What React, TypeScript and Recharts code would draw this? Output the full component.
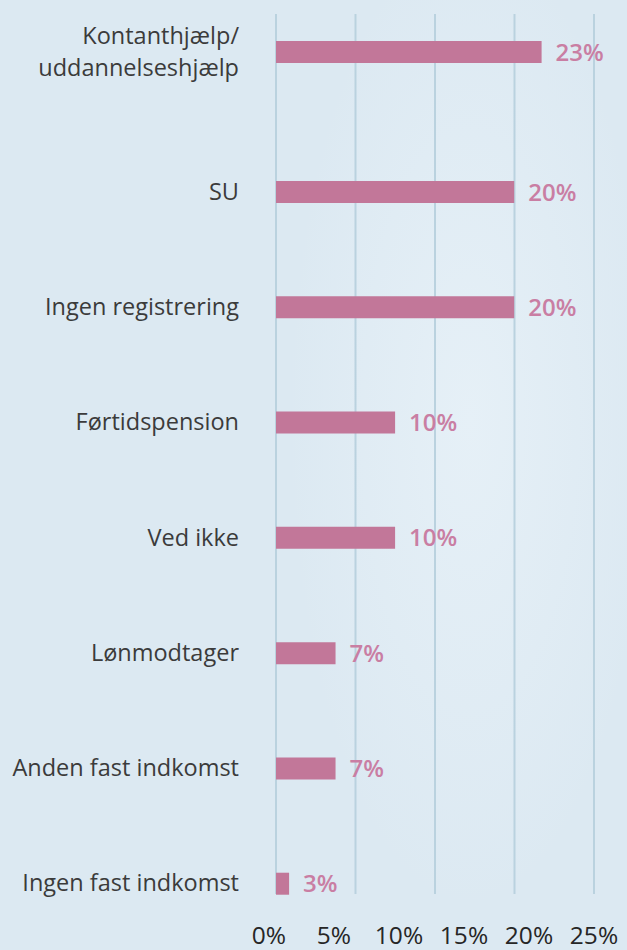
import { BarChart, Bar, XAxis, YAxis, CartesianGrid, LabelList } from "recharts";

// categories top to bottom
const categories = [
  "Kontanthjælp/\nuddannelseshjælp",
  "SU",
  "Ingen registrering",
  "Førtidspension",
  "Ved ikke",
  "Lønmodtager",
  "Anden fast indkomst",
  "Ingen fast indkomst",
];
// bar lengths as drawn (in units where the 20% bars read 20)
const barLengths = [22.3, 20, 20, 10, 10, 5, 5, 1.1];
// the percentages printed next to the bars
const printedLabels = ["23%", "20%", "20%", "10%", "10%", "7%", "7%", "3%"];
const axisTicks = [0, 5, 10, 15, 20, 25];
const gridSteps = [0, 1, 2, 3, 4];

const FONT = "'Open Sans', 'Noto Sans', sans-serif";
const BAR = "#c27799";
const LABEL = "#c97ea3";
const GRID = "#bad2df";

const rows = categories.map((name, i) => ({
  name,
  value: barLengths[i],
  label: printedLabels[i],
}));

function CategoryTick({ x, y, payload }: any) {
  const lines = String(payload.value).split("\n");
  const lineHeight = 32.7;
  const tx = x - 35;
  return (
    <text x={tx} y={y} textAnchor="end" fill="#3b3b3b" fontSize={23.5} fontFamily={FONT}>
      {lines.map((line, i) => (
        <tspan key={i} x={tx} dy={i === 0 ? 8 - ((lines.length - 1) * lineHeight) / 2 : lineHeight}>
          {line}
        </tspan>
      ))}
    </text>
  );
}

function PctTick({ x, y, payload }: any) {
  return (
    <text x={x} y={y} dy={48} textAnchor="middle" fill="#262626" fontSize={24.5} fontFamily={FONT}>
      {`${payload.value}%`}
    </text>
  );
}

// vertical grid lines split the plot width in quarters
const quarterLines = ({ offset }: any) =>
  gridSteps.map((s) => offset.left + (offset.width * s) / (gridSteps.length - 1));

function Panel({ data, height, marginTop, yPadding, withTicks }: any) {
  return (
    <BarChart
      width={627}
      height={height}
      data={data}
      layout="vertical"
      margin={{ top: marginTop, right: 33, bottom: 0, left: 0 }}
    >
      <CartesianGrid
        horizontal={false}
        stroke={GRID}
        strokeWidth={2}
        verticalCoordinatesGenerator={quarterLines}
      />
      {withTicks && (
        <XAxis
          xAxisId="pct"
          type="number"
          domain={[0, 25]}
          allowDataOverflow
          ticks={axisTicks}
          interval={0}
          axisLine={false}
          tickLine={false}
          tickSize={0}
          height={56}
          padding={{ left: -7, right: 0 }}
          tick={<PctTick />}
        />
      )}
      <XAxis xAxisId="bars" type="number" domain={[0, 26.7]} height={0} hide />
      <YAxis
        type="category"
        dataKey="name"
        width={276}
        axisLine={false}
        tickLine={false}
        tickSize={0}
        interval={0}
        padding={yPadding}
        tick={<CategoryTick />}
      />
      <Bar dataKey="value" xAxisId="bars" fill={BAR} barSize={22} isAnimationActive={false}>
        <LabelList
          dataKey="label"
          position="right"
          offset={14}
          fill={LABEL}
          fontSize={24}
          fontWeight={600}
          fontFamily={FONT}
        />
      </Bar>
    </BarChart>
  );
}

export default function App() {
  return (
    <div
      style={{
        position: "absolute",
        left: 0,
        top: 0,
        width: 627,
        height: 950,
        overflow: "hidden",
        background:
          "radial-gradient(ellipse 260px 700px at 470px 420px, rgba(234,243,249,0.7), rgba(234,243,249,0) 70%), #dce9f2",
        fontFamily: FONT,
      }}
    >
      <Panel data={rows.slice(0, 1)} height={90} marginTop={14} yPadding={{ top: 0, bottom: 0 }} />
      <Panel data={rows.slice(1)} height={860} marginTop={0} yPadding={{ top: 44, bottom: -47 }} withTicks />
    </div>
  );
}
